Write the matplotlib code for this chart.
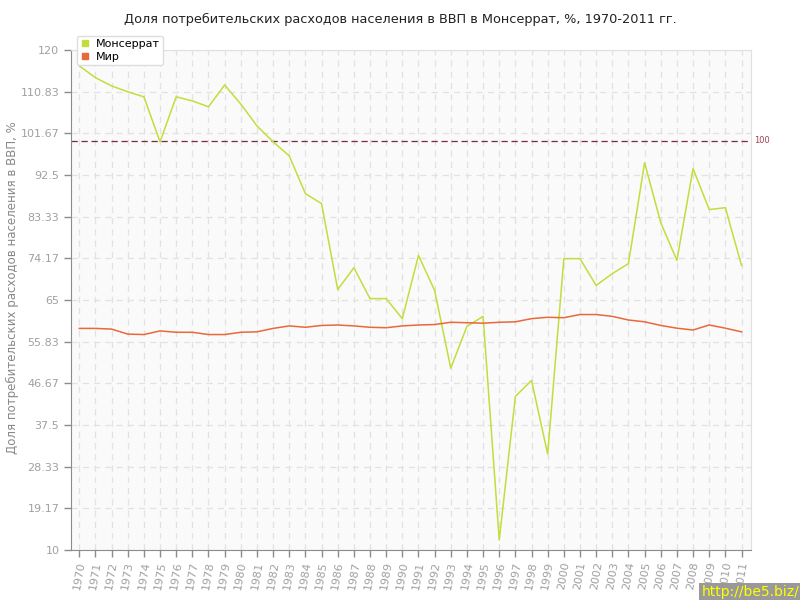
import matplotlib.pyplot as plt
from matplotlib.ticker import FixedLocator
from matplotlib.lines import Line2D

years = list(range(1970, 2012))

montserrat = [116.5, 113.9, 112.1, 110.8, 109.7, 99.8, 109.7, 108.8, 107.5, 112.3,
              108.1, 103.3, 99.8, 96.7, 88.4, 86.2, 67.3, 72.1, 65.3, 65.3,
              60.9, 74.8, 67.1, 50.0, 59.2, 61.4, 12.2, 43.8, 47.3, 31.1,
              74.1, 74.1, 68.2, 70.8, 73.0, 95.2, 82.0, 73.7, 93.9, 84.9,
              85.3, 72.6]

world = [58.75, 58.75, 58.6, 57.5, 57.4, 58.2, 57.9, 57.9, 57.4, 57.4,
         57.9, 58.0, 58.75, 59.3, 59.0, 59.4, 59.5, 59.3, 59.0, 58.9,
         59.3, 59.5, 59.6, 60.1, 60.0, 59.9, 60.1, 60.2, 60.9, 61.2,
         61.1, 61.8, 61.8, 61.4, 60.6, 60.2, 59.4, 58.8, 58.4, 59.5,
         58.8, 58.0]

yticks = [10, 19.17, 28.33, 37.5, 46.67, 55.83, 65, 74.17, 83.33, 92.5, 101.67, 110.83, 120]
ytick_labels = ["10", "19.17", "28.33", "37.5", "46.67", "55.83", "65", "74.17",
                "83.33", "92.5", "101.67", "110.83", "120"]

title = "Доля потребительских расходов населения в ВВП в Монсеррат, %, 1970-2011 гг."
ylabel = "Доля потребительских расходов населения в ВВП, %"

green = "#c3dd3c"
orange = "#e8693a"
gray = "#8c8c8c"

fig = plt.figure(figsize=(8, 6), dpi=100)
ax = fig.add_axes([0.089, 0.0833, 0.85, 0.8334])
ax.set_facecolor("#fafafa")

ax.plot(years, montserrat, color=green, lw=1.1, zorder=3)
ax.plot(years, world, color=orange, lw=1.1, zorder=3)
ax.axhline(100, color="#7a2a3a", lw=0.9, ls=(0, (5, 3)), zorder=2)
ax.text(2011.75, 100, "100", color="#a04050", fontsize=6, va="center", ha="left")

ax.set_xlim(1969.5, 2011.6)
ax.set_ylim(10, 120)
ax.set_xticks(years)
ax.set_xticklabels([str(y) for y in years], rotation=80, fontsize=8, color="#a0a0a0")
ax.yaxis.set_major_locator(FixedLocator(yticks))
ax.set_yticklabels(ytick_labels, fontsize=8, color="#a0a0a0")
ax.tick_params(axis="both", length=5, color=gray, width=1)
ax.tick_params(axis="x", pad=3)

ax.grid(True, color="#e2e2e2", ls=(0, (5, 4)), lw=0.9)
ax.set_axisbelow(True)
ax.spines["left"].set_color(gray)
ax.spines["bottom"].set_color(gray)
ax.spines["top"].set_color("#e0e0e0")
ax.spines["right"].set_color("#e0e0e0")

fig.text(0.015, 0.52, ylabel, rotation=90, ha="center", va="center",
         fontsize=8.5, color="#888888")
fig.text(0.5, 0.968, title, ha="center", va="center", fontsize=9.3, color="#222222")

handles = [Line2D([], [], ls="none", marker="s", ms=4.5, color=green, mec=green),
           Line2D([], [], ls="none", marker="s", ms=4.5, color=orange, mec=orange)]
leg = ax.legend(handles, ["Монсеррат", "Мир"], loc="upper left", bbox_to_anchor=(0.0, 1.04),
                frameon=True, fontsize=8, handlelength=0.8, handletextpad=0.6,
                borderpad=0.3, labelspacing=0.25, fancybox=True, shadow=False,
                edgecolor="#dddddd", framealpha=1)
leg.set_zorder(5)

fig.text(0.999, 0.002, "http://be5.biz/", ha="right", va="bottom", fontsize=10,
         color="#ffff00", bbox=dict(facecolor="#999999", edgecolor="none", pad=1.5))

fig.savefig("out.png", dpi=100)
